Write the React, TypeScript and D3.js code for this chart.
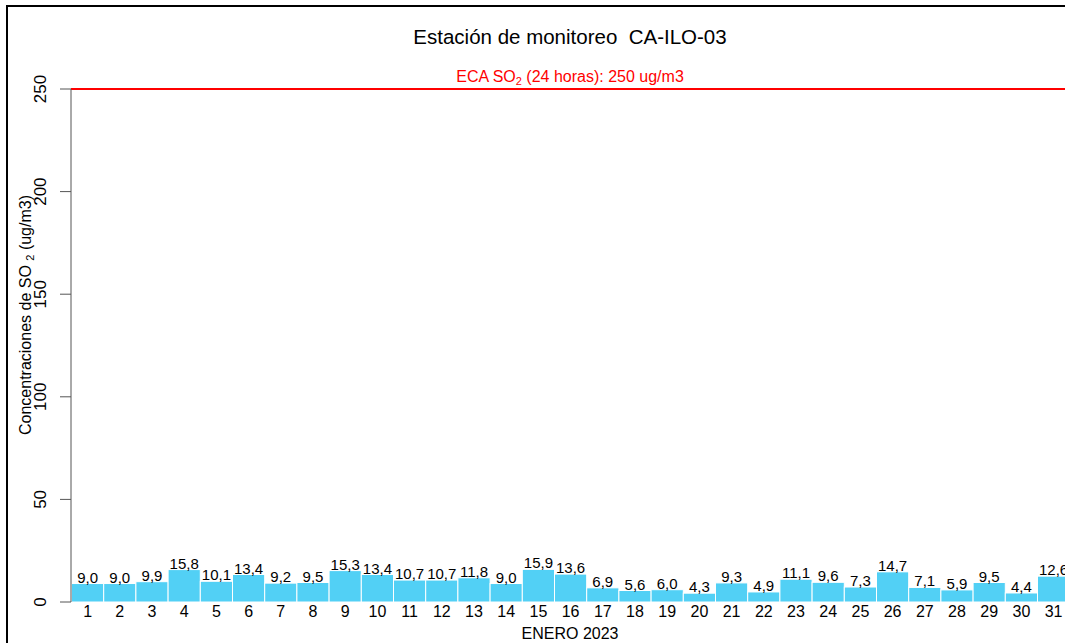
import * as d3 from "d3";

const days = [
  "1", "2", "3", "4", "5", "6", "7", "8", "9", "10", "11", "12", "13", "14", "15", "16",
  "17", "18", "19", "20", "21", "22", "23", "24", "25", "26", "27", "28", "29", "30", "31",
];
const so2 = [
  9.0, 9.0, 9.9, 15.8, 10.1, 13.4, 9.2, 9.5, 15.3, 13.4, 10.7, 10.7, 11.8, 9.0, 15.9, 13.6,
  6.9, 5.6, 6.0, 4.3, 9.3, 4.9, 11.1, 9.6, 7.3, 14.7, 7.1, 5.9, 9.5, 4.4, 12.6,
];
const yTicks = [0, 50, 100, 150, 200, 250];
const ecaLimit = 250;

const W = 1065;
const H = 643;
const font = "'Liberation Sans', Arial, sans-serif";

export default function App() {
  const x = d3.scaleBand<string>().domain(days).range([71.5, 71.5 + 31 * 32.2]).padding(0);
  const y = d3.scaleLinear().domain([0, 250]).range([602, 89]);
  const cx = (71 + 1069) / 2;
  const fmt = (v: number) => v.toFixed(1).replace(".", ",");

  return (
    <svg
      width={W}
      height={H}
      style={{ position: "absolute", left: 0, top: 0, background: "#fff" }}
      fontFamily={font}
    >
      {/* outer frame */}
      <rect x={7} y={6} width={W + 20} height={H + 20} fill="none" stroke="#000" strokeWidth={2} />

      <text x={cx} y={44} textAnchor="middle" fontSize={20.5} fill="#000" style={{ whiteSpace: "pre" }}>
        {"Estación de monitoreo  CA-ILO-03"}
      </text>

      {/* bars */}
      {days.map((d, i) => (
        <rect
          key={d}
          x={x(d)}
          y={y(so2[i])}
          width={x.bandwidth()}
          height={y(0) - y(so2[i])}
          fill="#52D0F5"
          stroke="#fff"
          strokeWidth={1}
        />
      ))}
      {days.map((d, i) => (
        <text
          key={"v" + d}
          x={(x(d) || 0) + x.bandwidth() / 2}
          y={y(so2[i]) - 1}
          textAnchor="middle"
          fontSize={15}
          fill="#000"
        >
          {fmt(so2[i])}
        </text>
      ))}

      {/* ECA line */}
      <line x1={71} x2={W} y1={y(ecaLimit)} y2={y(ecaLimit)} stroke="#ff0000" strokeWidth={2} />
      <text x={cx} y={82} textAnchor="middle" fontSize={16} fill="#ff0000">
        ECA SO<tspan fontSize={11} dy={3}>2</tspan>
        <tspan dy={-3}> (24 horas): 250 ug/m3</tspan>
      </text>

      {/* y axis */}
      <line x1={71} x2={71} y1={y(0)} y2={y(250)} stroke="#555" strokeWidth={1} />
      {yTicks.map((t) => (
        <g key={t}>
          <line x1={60} x2={71} y1={y(t)} y2={y(t)} stroke="#555" strokeWidth={1} />
          <text
            transform={`translate(46,${y(t)}) rotate(-90)`}
            textAnchor="middle"
            fontSize={17}
            fill="#000"
          >
            {t}
          </text>
        </g>
      ))}
      <text
        transform={`translate(31,315) rotate(-90)`}
        textAnchor="middle"
        fontSize={16}
        fill="#000"
        style={{ whiteSpace: "pre" }}
      >
        {"Concentraciones de SO "}
        <tspan fontSize={11} dy={3}>2</tspan>
        <tspan dy={-3}>{" (ug/m3)"}</tspan>
      </text>

      {/* x labels */}
      {days.map((d) => (
        <text
          key={"x" + d}
          x={(x(d) || 0) + x.bandwidth() / 2}
          y={617}
          textAnchor="middle"
          fontSize={16}
          fill="#000"
        >
          {d}
        </text>
      ))}
      <text x={cx} y={639} textAnchor="middle" fontSize={16} fill="#000">
        ENERO 2023
      </text>
    </svg>
  );
}
